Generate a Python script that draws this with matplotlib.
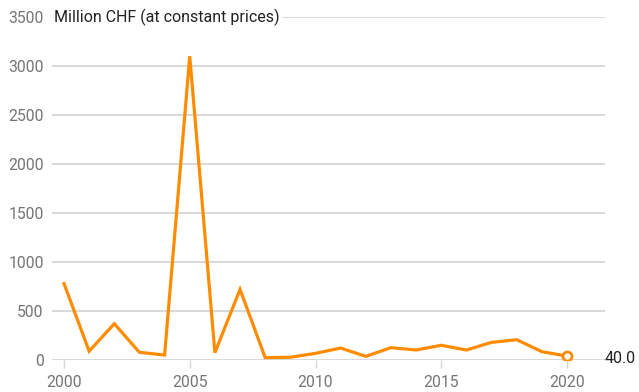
import matplotlib.pyplot as plt

plt.rcParams["font.family"] = ["Roboto", "DejaVu Sans"]

years = list(range(2000, 2021))
values = [780, 90, 370, 78, 51, 3100, 75, 720, 24, 28, 68, 122, 37, 126,
          102, 150, 102, 180, 207, 85, 40.0]
yticks = [0, 500, 1000, 1500, 2000, 2500, 3000, 3500]
xticks = [2000, 2005, 2010, 2015, 2020]

ORANGE = "#ff8c00"
GRID = "#d6d6d6"
TICK = "#757575"
INK = "#222222"

W, H = 639, 392
fig = plt.figure(figsize=(W / 100, H / 100), dpi=100)
ax = fig.add_axes([52 / W, (H - 360) / H, (605 - 52) / W, (360 - 17) / H])

ax.set_xlim(2000 - 12 / 25.15, 2000 + 541 / 25.15)
ax.set_ylim(0, 3500)

for t in yticks:
    ax.axhline(t, color=GRID, lw=1.3, zorder=1)

ax.plot(years, values, color=ORANGE, lw=2.3, zorder=3, solid_joinstyle="miter")
ax.plot(years[-1], values[-1], "o", ms=6.5, mfc="white", mec=ORANGE,
        mew=2, zorder=4)

for s in ax.spines.values():
    s.set_visible(False)

ax.set_yticks(yticks)
ax.set_yticklabels([str(t) for t in yticks], fontsize=11.3, color=TICK)
ax.tick_params(axis="y", length=0, pad=6)
ax.set_xticks(xticks)
ax.set_xticklabels([str(t) for t in xticks], fontsize=11.3, color=TICK)
ax.tick_params(axis="x", length=6, width=1, color=GRID, pad=5)

ax.text(2000 - 10 / 25.15, 3500, "Million CHF (at constant prices)",
        fontsize=11.5, color=INK, ha="left", va="center", zorder=5,
        bbox=dict(facecolor="white", edgecolor="none", pad=1.5))

ax.text(2000 + 541 / 25.15, values[-1] / 3, f"{values[-1]:.1f}",
        fontsize=11.5, color=INK, ha="left", va="center", clip_on=False)

fig.savefig("out.png", dpi=100)
